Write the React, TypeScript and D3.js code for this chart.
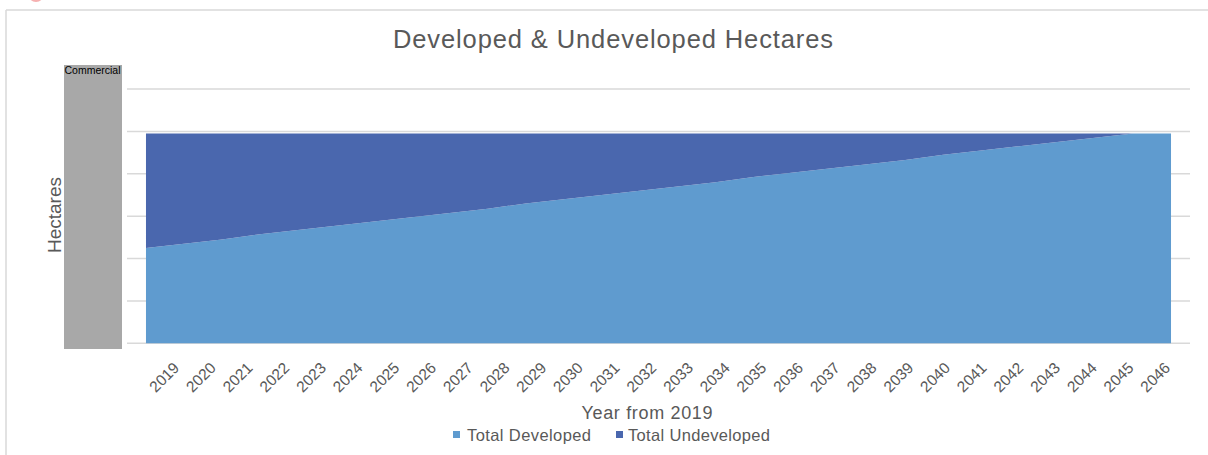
import React from "react";
import * as d3 from "d3";

const years: string[] = [
  "2019", "2020", "2021", "2022", "2023", "2024", "2025", "2026", "2027", "2028",
  "2029", "2030", "2031", "2032", "2033", "2034", "2035", "2036", "2037", "2038",
  "2039", "2040", "2041", "2042", "2043", "2044", "2045", "2046",
];
const totalDeveloped: number[] = [
  45, 47, 49, 51.5, 53.5, 55.5, 57.5, 59.5, 61.5, 63.5, 66, 68, 70, 72,
  74, 76, 78.5, 80.5, 82.5, 84.5, 86.5, 89, 91, 93, 95, 97, 99, 99,
];
const totalUndeveloped: number[] = [
  54, 52, 50, 47.5, 45.5, 43.5, 41.5, 39.5, 37.5, 35.5, 33, 31, 29, 27,
  25, 23, 20.5, 18.5, 16.5, 14.5, 12.5, 10, 8, 6, 4, 2, 0, 0,
];
const seriesNames = ["Total Developed", "Total Undeveloped"];
const seriesColors = ["#5f9bcf", "#4a67ae"];
const yTicks = [0, 20, 40, 60, 80, 100, 120];

const W = 1208;
const H = 455;
const plotLeft = 127;
const plotRight = 1190;
const plotTop = 89;
const plotBottom = 343.3;
const font = "Liberation Sans, Arial, sans-serif";
const textColor = "#595959";

export default function App() {
  const x = d3.scaleBand<string>().domain(years).range([plotLeft, plotRight]).padding(0);
  const cx = (y: string) => (x(y) as number) + x.bandwidth() / 2;
  const y = d3.scaleLinear().domain([0, 120]).range([plotBottom, plotTop]);
  const labelX = d3.scalePoint<string>().domain(years).range([168, 1159]);

  const rows = years.map((yr, i) => ({
    year: yr,
    dev: totalDeveloped[i],
    undev: totalUndeveloped[i],
  }));
  const stack = d3.stack<any>().keys(["dev", "undev"]);
  const stacked = stack(rows);
  const area = d3
    .area<any>()
    .x((d) => cx(d.data.year))
    .y0((d) => y(d[0]))
    .y1((d) => y(d[1]));

  const legendX = [453, 616];
  const legendOffset = [14, 12];
  const legendLen = [124, 142];

  return (
    <svg
      width={W}
      height={H}
      style={{ position: "absolute", left: 0, top: 0, background: "#fff" }}
      fontFamily={font}
    >
      <rect x={0} y={0} width={W} height={H} fill="#fff" />
      {/* frame */}
      <circle cx={36} cy={-6} r={8} fill="#f6b0b0" />
      <line x1={6} y1={10} x2={W} y2={10} stroke="#d9d9d9" strokeWidth={1.5} />
      <line x1={6} y1={10} x2={6} y2={H} stroke="#d9d9d9" strokeWidth={1.5} />

      {/* title */}
      <text
        x={613}
        y={48}
        textAnchor="middle"
        fontSize={25.5}
        fill={textColor}
        textLength={440}
        lengthAdjust="spacing"
      >
        Developed &amp; Undeveloped Hectares
      </text>

      {/* gray side box */}
      <rect x={64} y={65} width={58} height={284} fill="#a8a8a8" />
      <text x={64.5} y={74} fontSize={10.5} fill="#000" textLength={56} lengthAdjust="spacing">
        Commercial
      </text>

      {/* gridlines */}
      {yTicks.map((t) => (
        <line
          key={t}
          x1={plotLeft}
          x2={plotRight}
          y1={y(t)}
          y2={y(t)}
          stroke="#d9d9d9"
          strokeWidth={1.5}
        />
      ))}

      {/* areas */}
      {stacked.map((s, i) => (
        <path key={i} d={area(s) as string} fill={seriesColors[i]} />
      ))}

      {/* y axis title */}
      <text
        transform={`translate(61,215) rotate(-90)`}
        textAnchor="middle"
        fontSize={19}
        fill={textColor}
      >
        Hectares
      </text>

      {/* x tick labels */}
      {years.map((yr) => (
        <text
          key={yr}
          transform={`translate(${labelX(yr)},${381}) rotate(-45)`}
          textAnchor="middle"
          fontSize={15.5}
          fill={textColor}
        >
          {yr}
        </text>
      ))}

      {/* x axis title */}
      <text
        x={647}
        y={419}
        textAnchor="middle"
        fontSize={18}
        fill={textColor}
        textLength={131}
        lengthAdjust="spacing"
      >
        Year from 2019
      </text>

      {/* legend */}
      {seriesNames.map((n, i) => (
        <g key={n}>
          <rect x={legendX[i]} y={431} width={7} height={7} fill={seriesColors[i]} />
          <text
            x={legendX[i] + legendOffset[i]}
            y={441}
            fontSize={16.5}
            fill={textColor}
            textLength={legendLen[i]}
            lengthAdjust="spacing"
          >
            {n}
          </text>
        </g>
      ))}
    </svg>
  );
}
